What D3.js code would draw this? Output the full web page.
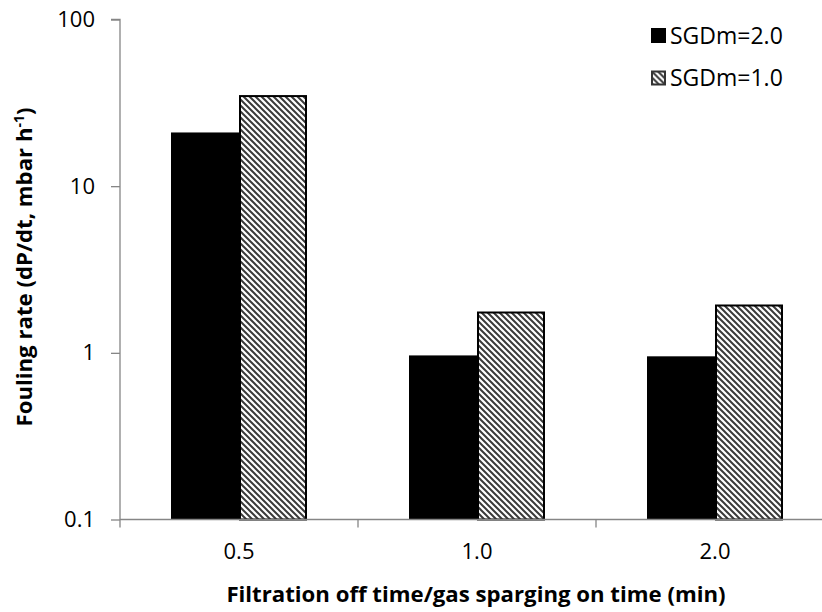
<!DOCTYPE html>
<html>
<head>
<meta charset="utf-8">
<script src="https://cdn.jsdelivr.net/npm/d3@7"></script>
<style>
  html, body { margin: 0; padding: 0; background: #fff; }
  svg { display: block; font-family: "Open Sans", "Noto Sans", sans-serif; }
</style>
</head>
<body>
<svg id="chart" width="822" height="612"></svg>
<script>
// Off/on cycle times (min) on the x axis
const categories = ["0.5", "1.0", "2.0"];
// Fouling rate, mbar/h, for each specific gas demand
const seriesNames = ["SGDm=2.0", "SGDm=1.0"];
const sgd20 = [21.0, 0.965, 0.953];
const sgd10 = [35.2, 1.77, 1.95];
const yTicks = [0.1, 1, 10, 100];

const data = categories.map((c, i) => ({ cat: c, values: [sgd20[i], sgd10[i]] }));

const svg = d3.select("#chart");
const plotLeft = 120, plotTop = 19.5, plotH = 500, plotW = 714;

const x = d3.scaleBand().domain(categories).range([plotLeft, plotLeft + plotW])
  .paddingInner(0.4286).paddingOuter(0.2143);
const xSub = d3.scaleBand().domain([0, 1]).range([0, x.bandwidth()]).padding(0);
const y = d3.scaleLog().domain([0.1, 100]).range([plotTop + plotH, plotTop]);

// diagonal hatch fill
const defs = svg.append("defs");
const pat = defs.append("pattern").attr("id", "hatch")
  .attr("patternUnits", "userSpaceOnUse").attr("width", 6).attr("height", 6);
pat.append("rect").attr("width", 6).attr("height", 6).attr("fill", "#fff");
pat.append("path").attr("d", "M-1,-1 L7,7 M-1,5 L1,7 M5,-1 L7,1")
  .attr("stroke", "#3a3a3a").attr("stroke-width", 2);

const axisColor = "#868686";

// bars
const groups = svg.append("g").selectAll("g").data(data).join("g")
  .attr("transform", d => `translate(${x(d.cat)},0)`);
groups.selectAll("rect").data(d => d.values.map((v, k) => ({ v, k }))).join("rect")
  .attr("x", d => xSub(d.k) + (d.k === 1 ? 1 : 0))
  .attr("width", d => xSub.bandwidth() - (d.k === 1 ? 2 : 0))
  .attr("y", d => y(d.v) + (d.k === 1 ? 1 : 0))
  .attr("height", d => y(0.1) - y(d.v) - (d.k === 1 ? 1 : 0))
  .attr("fill", d => d.k === 0 ? "#000" : "url(#hatch)")
  .attr("stroke", d => d.k === 1 ? "#000" : "none")
  .attr("stroke-width", 2);

// y axis
const yAxis = svg.append("g").attr("transform", `translate(${plotLeft},0)`)
  .call(d3.axisLeft(y).tickValues(yTicks).tickFormat(d3.format("~g")).tickSize(9).tickPadding(16));
yAxis.select(".domain").attr("d", `M-9,${plotTop}H0V${plotTop + plotH + 8}`);

// x axis with boundary ticks between categories
const xAxis = svg.append("g").attr("transform", `translate(0,${plotTop + plotH})`)
  .call(d3.axisBottom(x).tickSize(0).tickPadding(24));
xAxis.select(".domain").attr("d", `M${plotLeft},0H${plotLeft + plotW}`);
const bounds = [1, 2, 3].map(i => plotLeft + i * x.step());
xAxis.selectAll(".bound").data(bounds).join("line").attr("class", "bound")
  .attr("x1", d => d).attr("x2", d => d).attr("y1", 0).attr("y2", 8);

svg.selectAll(".domain, .tick line, .bound")
  .attr("stroke", axisColor).attr("stroke-width", 1.3);
svg.selectAll(".tick text").attr("font-size", 22).attr("fill", "#000")
  .attr("font-family", "'Open Sans', sans-serif");
xAxis.selectAll(".tick text").attr("dy", "0.71em");

// axis titles
svg.append("text").attr("x", plotLeft + plotW / 2 - 1).attr("y", 602)
  .attr("text-anchor", "middle").attr("font-weight", "bold").attr("font-size", 22.2)
  .text("Filtration off time/gas sparging on time (min)");

const yTitle = svg.append("text").attr("transform", "translate(32,267) rotate(-90)")
  .attr("text-anchor", "middle").attr("font-weight", "bold").attr("font-size", 22.2);
yTitle.append("tspan").text("Fouling rate (dP/dt, mbar h");
yTitle.append("tspan").attr("font-size", 14).attr("dy", -8).text("-1");
yTitle.append("tspan").attr("dy", 8).text(")");

// legend
const legend = svg.append("g").selectAll("g").data(seriesNames).join("g")
  .attr("transform", (d, i) => `translate(651,${28 + i * 42.5})`);
legend.append("rect")
  .attr("x", (d, i) => i === 1 ? 1 : 0)
  .attr("y", (d, i) => i === 1 ? 1 : 0)
  .attr("width", (d, i) => i === 1 ? 13 : 15).attr("height", (d, i) => i === 1 ? 13 : 15)
  .attr("fill", (d, i) => i === 0 ? "#000" : "url(#hatch)")
  .attr("stroke", (d, i) => i === 1 ? "#333" : "none").attr("stroke-width", 2);
legend.append("text").attr("x", 19).attr("y", 15.5)
  .attr("font-size", 23).text(d => d);
</script>
</body>
</html>
